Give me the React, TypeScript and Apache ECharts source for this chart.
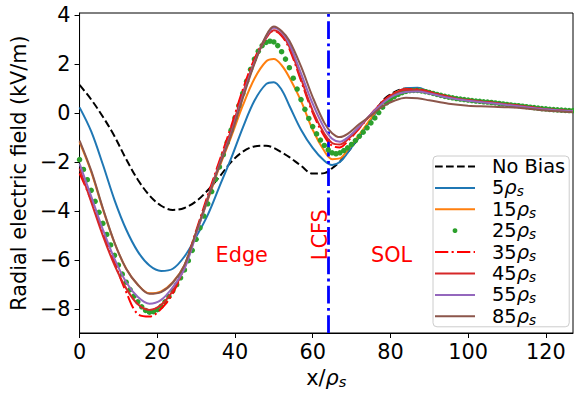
import React, { useEffect, useRef } from 'react';
import * as echarts from 'echarts';

// x positions (in units of rho_s) at which the solid/dashed curves were read
const xGrid = [0, 3, 6, 9, 12, 15, 18, 21, 24, 27, 30, 33, 36, 39, 42, 45, 48, 50, 52, 54, 57, 60, 63, 65, 67, 69, 72, 75, 78, 81, 84, 87, 90, 95, 100, 105, 110, 115, 120, 127];

const noBias = [1.15, 0.55, -0.15, -0.95, -1.88, -2.72, -3.36, -3.78, -3.95, -3.87, -3.6, -3.15, -2.6, -2.0, -1.58, -1.36, -1.33, -1.42, -1.6, -1.8, -2.15, -2.47, -2.45, -2.25, -1.98, -1.6, -0.98, -0.25, 0.5, 0.85, 1.0, 1.0, 0.88, 0.65, 0.52, 0.45, 0.35, 0.28, 0.17, 0.08];
const rho5 = [0.23, -0.75, -2.1, -3.55, -4.75, -5.65, -6.22, -6.44, -6.35, -5.85, -5.05, -4.15, -3.0, -1.85, -0.6, 0.5, 1.18, 1.26, 0.95, 0.3, -0.68, -1.42, -1.95, -2.12, -2.0, -1.62, -0.95, -0.28, 0.38, 0.8, 1.0, 1.03, 0.88, 0.66, 0.53, 0.45, 0.35, 0.27, 0.17, 0.08];
const rho15 = [-1.19, -2.4, -3.92, -5.3, -6.35, -7.0, -7.35, -7.27, -6.9, -6.2, -4.88, -3.55, -2.2, -0.98, 0.3, 1.4, 2.1, 2.2, 1.95, 1.45, 0.5, -0.68, -1.55, -1.88, -1.85, -1.5, -0.88, -0.22, 0.4, 0.8, 0.97, 0.98, 0.88, 0.67, 0.55, 0.45, 0.34, 0.25, 0.14, 0.06];
const rho35 = [-2.46, -3.55, -4.85, -6.1, -7.3, -8.2, -8.3, -7.98, -7.35, -6.25, -4.8, -3.35, -1.95, -0.55, 0.95, 2.2, 3.08, 3.35, 3.15, 2.62, 1.32, 0.02, -0.95, -1.33, -1.4, -1.15, -0.62, -0.05, 0.47, 0.82, 0.97, 0.97, 0.86, 0.66, 0.52, 0.44, 0.35, 0.26, 0.16, 0.08];
const rho45 = [-2.26, -3.62, -5.0, -6.2, -7.15, -7.8, -8.03, -7.82, -7.25, -6.3, -4.9, -3.45, -2.05, -0.7, 0.8, 2.1, 3.05, 3.38, 3.2, 2.7, 1.4, 0.1, -0.85, -1.22, -1.28, -1.08, -0.6, -0.05, 0.45, 0.8, 0.95, 0.95, 0.85, 0.65, 0.52, 0.44, 0.35, 0.26, 0.16, 0.08];
const rho55 = [-2.06, -3.4, -4.75, -5.95, -6.9, -7.5, -7.78, -7.62, -7.1, -6.35, -4.95, -3.5, -2.12, -0.85, 0.68, 2.05, 3.12, 3.48, 3.3, 2.82, 1.62, 0.38, -0.62, -1.05, -1.17, -1.0, -0.55, -0.05, 0.4, 0.72, 0.86, 0.88, 0.8, 0.62, 0.5, 0.42, 0.33, 0.24, 0.15, 0.07];
const rho85 = [-1.12, -2.35, -3.88, -5.28, -6.35, -7.0, -7.37, -7.3, -6.92, -6.2, -4.85, -3.5, -2.15, -0.9, 0.6, 2.0, 3.15, 3.53, 3.35, 2.95, 1.9, 0.65, -0.4, -0.82, -0.98, -0.85, -0.45, -0.1, 0.27, 0.5, 0.62, 0.6, 0.52, 0.38, 0.3, 0.27, 0.24, 0.19, 0.1, 0.03];

// 25 rho_s case is drawn as dots at every grid point x = 0..127
const rho25 = [
  -1.9, -2.3, -2.72, -3.15, -3.6, -4.05, -4.5, -4.95, -5.38, -5.8,
  -6.2, -6.57, -6.9, -7.2, -7.47, -7.7, -7.9, -8.05, -8.12, -8.1,
  -8.02, -7.88, -7.7, -7.48, -7.25, -7.0, -6.72, -6.4, -6.02, -5.6,
  -5.15, -4.68, -4.2, -3.7, -3.2, -2.7, -2.2, -1.7, -1.2, -0.7,
  -0.2, 0.3, 0.8, 1.3, 1.78, 2.2, 2.52, 2.75, 2.88, 2.93,
  2.9, 2.75, 2.5, 2.2, 1.85, 1.42, 0.98, 0.55, 0.15, -0.22,
  -0.55, -0.85, -1.1, -1.32, -1.5, -1.62, -1.66, -1.62, -1.53, -1.42,
  -1.28, -1.12, -0.95, -0.78, -0.6, -0.4, -0.2, 0.02, 0.24, 0.42,
  0.56, 0.67, 0.76, 0.83, 0.88, 0.91, 0.92, 0.92, 0.9, 0.87,
  0.84, 0.8, 0.76, 0.72, 0.68, 0.65, 0.62, 0.59, 0.57, 0.55,
  0.53, 0.51, 0.49, 0.48, 0.46, 0.45, 0.43, 0.41, 0.39, 0.37,
  0.35, 0.33, 0.31, 0.3, 0.28, 0.26, 0.24, 0.22, 0.2, 0.18,
  0.17, 0.15, 0.14, 0.13, 0.12, 0.11, 0.1, 0.1,
];
const rho25X = rho25.map((_, i) => i);

const seriesNames = ['No Bias', '5ρs', '15ρs', '25ρs', '35ρs', '45ρs', '55ρs', '85ρs'];
const xTicks = [0, 20, 40, 60, 80, 100, 120];
const yTicks = [-8, -6, -4, -2, 0, 2, 4];
const lcfsX = 64;
const annotX = [35, 75, 60];
const annotY = [-6, -6, -6];
const annotText = ['Edge', 'SOL', 'LCFS'];
const annotRot = [0, 0, 90];

const FONT = 'DejaVu Sans';
const FS = 20.8;

function pairs(ys: number[]) {
  return xGrid.map((x, i) => [x, ys[i]]);
}

function lineSeries(name: string, ys: number[], color: string, type: any, z: number) {
  return {
    name,
    type: 'line',
    data: pairs(ys),
    smooth: 0.35,
    symbol: 'none',
    z,
    lineStyle: { color, width: 2, type },
    itemStyle: { color },
  };
}

export default function App() {
  const ref = useRef<HTMLDivElement>(null);
  useEffect(() => {
    if (!ref.current) return;
    const chart = echarts.init(ref.current, null, { renderer: 'svg' });
    const dashed = [7.7, 3.3];
    const dashDot = [13.3, 3.3, 2.1, 3.3];
    const minus = (v: number) => (v < 0 ? '\u2212' + Math.abs(v) : String(v));
    const option: any = {
      animation: false,
      textStyle: { fontFamily: FONT },
      grid: {
        left: 78, right: 1, top: 13, bottom: 58,
        show: true, borderColor: '#000', borderWidth: 1, backgroundColor: 'transparent',
      },
      xAxis: {
        type: 'value', min: 0, max: 127,
        name: 'x/{r|ρ}{s|s}', nameLocation: 'middle', nameGap: 34,
        nameTextStyle: {
          fontFamily: FONT, fontSize: FS, color: '#000', lineHeight: 22,
          rich: {
            r: { fontFamily: FONT, fontSize: FS, fontStyle: 'italic', color: '#000', lineHeight: 22 },
            s: { fontFamily: FONT, fontSize: 14.6, fontStyle: 'italic', color: '#000', lineHeight: 13, verticalAlign: 'bottom' },
          },
        },
        axisLine: { show: true, onZero: false, lineStyle: { color: '#000', width: 1 } },
        axisTick: { show: true, inside: false, length: 5, lineStyle: { color: '#000', width: 1 }, customValues: xTicks },
        axisLabel: { fontFamily: FONT, fontSize: FS, color: '#000', margin: 8, customValues: xTicks },
        splitLine: { show: false },
      },
      yAxis: {
        type: 'value', min: -8.97, max: 4.08,
        name: 'Radial electric field (kV/m)', nameLocation: 'middle', nameGap: 49, nameRotate: 90,
        nameTextStyle: { fontFamily: FONT, fontSize: FS, color: '#000' },
        axisLine: { show: true, onZero: false, lineStyle: { color: '#000', width: 1 } },
        axisTick: { show: true, inside: false, length: 5, lineStyle: { color: '#000', width: 1 }, customValues: yTicks },
        axisLabel: { fontFamily: FONT, fontSize: FS, color: '#000', margin: 9, formatter: minus, customValues: yTicks },
        splitLine: { show: false },
      },
      legend: {
        orient: 'vertical', left: 433, top: 156,
        data: seriesNames.map((n) => (n === '25ρs' ? { name: n } : { name: n, itemStyle: { opacity: 0 } })),
        padding: [0, 4, 0, 1],
        itemGap: 0.4, itemWidth: 40, itemHeight: 6,
        backgroundColor: 'rgba(255,255,255,0.85)', borderColor: '#cccccc', borderWidth: 1, borderRadius: 4,
        formatter: (name: string) => '{sp| }' + name.replace('ρs', '{r|ρ}{s|s}'),
        textStyle: {
          fontFamily: FONT, fontSize: 19.4, color: '#000', lineHeight: 21,
          rich: {
            sp: { width: 12, fontSize: 19.4, lineHeight: 21 },
            r: { fontFamily: FONT, fontSize: 19.4, fontStyle: 'italic', color: '#000', lineHeight: 21 },
            s: { fontFamily: FONT, fontSize: 13.6, fontStyle: 'italic', color: '#000', lineHeight: 12, verticalAlign: 'bottom' },
          },
        },
      },
      series: [
        lineSeries('No Bias', noBias, '#000000', dashed, 2),
        lineSeries('5ρs', rho5, '#1f77b4', 'solid', 3),
        lineSeries('15ρs', rho15, '#ff7f0e', 'solid', 4),
        {
          name: '25ρs', type: 'line', z: 5,
          data: rho25X.map((x, i) => [x, rho25[i]]),
          symbol: 'circle', symbolSize: 5.5, showSymbol: true, showAllSymbol: true,
          lineStyle: { width: 0, opacity: 0 },
          itemStyle: { color: '#2ca02c', borderWidth: 0 },
        },
        lineSeries('35ρs', rho35, '#ff0000', dashDot, 6),
        lineSeries('45ρs', rho45, '#d62728', 'solid', 7),
        lineSeries('55ρs', rho55, '#9467bd', 'solid', 8),
        {
          ...lineSeries('85ρs', rho85, '#8c564b', 'solid', 9),
          markLine: {
            silent: true, symbol: ['none', 'none'], label: { show: false },
            lineStyle: { color: '#0000ff', width: 2.8, type: [17.8, 4.4, 2.8, 4.4] },
            data: [{ xAxis: lcfsX }],
          },
        },
        {
          name: 'annotations', type: 'custom', z: 10,
          data: annotX.map((x, i) => [x, annotY[i]]),
          renderItem: (params: any, api: any) => {
            const i = params.dataIndex;
            const p = api.coord([api.value(0), api.value(1)]);
            const rot = annotRot[i];
            if (rot) {
              return {
                type: 'text', x: p[0] - 3, y: p[1], rotation: (rot * Math.PI) / 180,
                style: { text: annotText[i], fill: '#ff0000', font: `${FS}px "${FONT}"`, textAlign: 'left', textVerticalAlign: 'top' },
              };
            }
            return {
              type: 'text', x: p[0], y: p[1] + 5,
              style: { text: annotText[i], fill: '#ff0000', font: `${FS}px "${FONT}"`, textAlign: 'left', textVerticalAlign: 'bottom' },
            };
          },
        },
      ],
    };
    chart.setOption(option);
    return () => chart.dispose();
  }, []);
  return <div ref={ref} style={{ position: 'fixed', left: 0, top: 0, width: 574, height: 394, background: '#fff' }} />;
}
